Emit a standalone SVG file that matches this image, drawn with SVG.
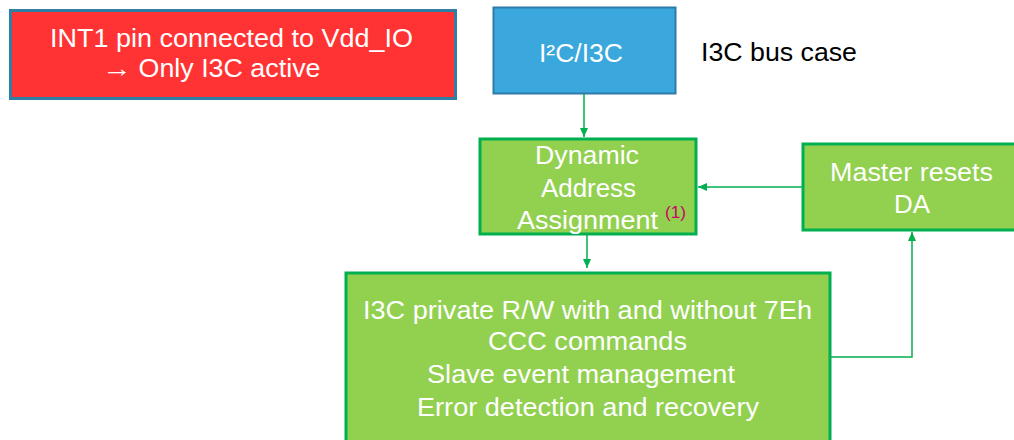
<svg xmlns="http://www.w3.org/2000/svg" width="1014" height="440" viewBox="0 0 1014 440">
<defs>
<style>
.t{font-family:"Liberation Sans",Arial,sans-serif;font-size:25px;fill:#ffffff;text-anchor:middle}
.g{fill:#92d050;stroke:#00b050;stroke-width:3}
.c{fill:none;stroke:#00b050;stroke-width:1.5}
</style>
<marker id="ah" markerWidth="10" markerHeight="10" refX="9" refY="5" orient="auto" markerUnits="userSpaceOnUse">
<path d="M0,1 L9,5 L0,9 Z" fill="#00b050"/>
</marker>
</defs>
<rect width="1014" height="440" fill="#ffffff"/>
<g id="note">
<rect x="10.5" y="10.5" width="445" height="88" fill="#ff3333" stroke="#2f7ea3" stroke-width="3"/>
<text class="t" x="231.5" y="47" textLength="363" lengthAdjust="spacingAndGlyphs">INT1 pin connected to Vdd_IO</text>
<text class="t" x="117" y="77" textLength="30" lengthAdjust="spacingAndGlyphs">→</text>
<text class="t" x="229.5" y="77" textLength="182" lengthAdjust="spacingAndGlyphs">Only I3C active</text>
</g>
<g id="bus">
<rect x="493.5" y="7.5" width="182" height="86" fill="#3aa8dc" stroke="#2e7bab" stroke-width="2"/>
<text class="t" x="581" y="62" textLength="84" lengthAdjust="spacingAndGlyphs">I²C/I3C</text>
</g>
<text id="caption" x="701" y="61" font-family="Liberation Sans,Arial,sans-serif" font-size="25" fill="#000000" textLength="156" lengthAdjust="spacingAndGlyphs">I3C bus case</text>
<g id="daa">
<rect class="g" x="480" y="139" width="216" height="95"/>
<text class="t" x="587" y="164" textLength="104" lengthAdjust="spacingAndGlyphs">Dynamic</text>
<text class="t" x="588.5" y="197" textLength="95" lengthAdjust="spacingAndGlyphs">Address</text>
<text class="t" x="587.5" y="229" textLength="141" lengthAdjust="spacingAndGlyphs">Assignment</text>
<text x="665" y="218" font-family="Liberation Sans,Arial,sans-serif" font-size="16" fill="#cc0066" textLength="21" lengthAdjust="spacingAndGlyphs">(1)</text>
</g>
<g id="reset">
<rect class="g" x="803" y="144" width="216" height="86"/>
<text class="t" x="911.5" y="181" textLength="163" lengthAdjust="spacingAndGlyphs">Master resets</text>
<text class="t" x="912" y="213" textLength="36" lengthAdjust="spacingAndGlyphs">DA</text>
</g>
<g id="ops">
<rect class="g" x="346" y="273" width="484" height="180"/>
<text class="t" x="587.5" y="319" textLength="449" lengthAdjust="spacingAndGlyphs">I3C private R/W with and without 7Eh</text>
<text class="t" x="587.5" y="350" textLength="199" lengthAdjust="spacingAndGlyphs">CCC commands</text>
<text class="t" x="581" y="383" textLength="308" lengthAdjust="spacingAndGlyphs">Slave event management</text>
<text class="t" x="588" y="416" textLength="342" lengthAdjust="spacingAndGlyphs">Error detection and recovery</text>
</g>
<g id="connectors">
<path class="c" d="M584,94 V137" marker-end="url(#ah)"/>
<path class="c" d="M587,235 V268" marker-end="url(#ah)"/>
<path class="c" d="M802,187 H698" marker-end="url(#ah)"/>
<path class="c" d="M831,357 H912 V232" marker-end="url(#ah)"/>
</g>
</svg>
